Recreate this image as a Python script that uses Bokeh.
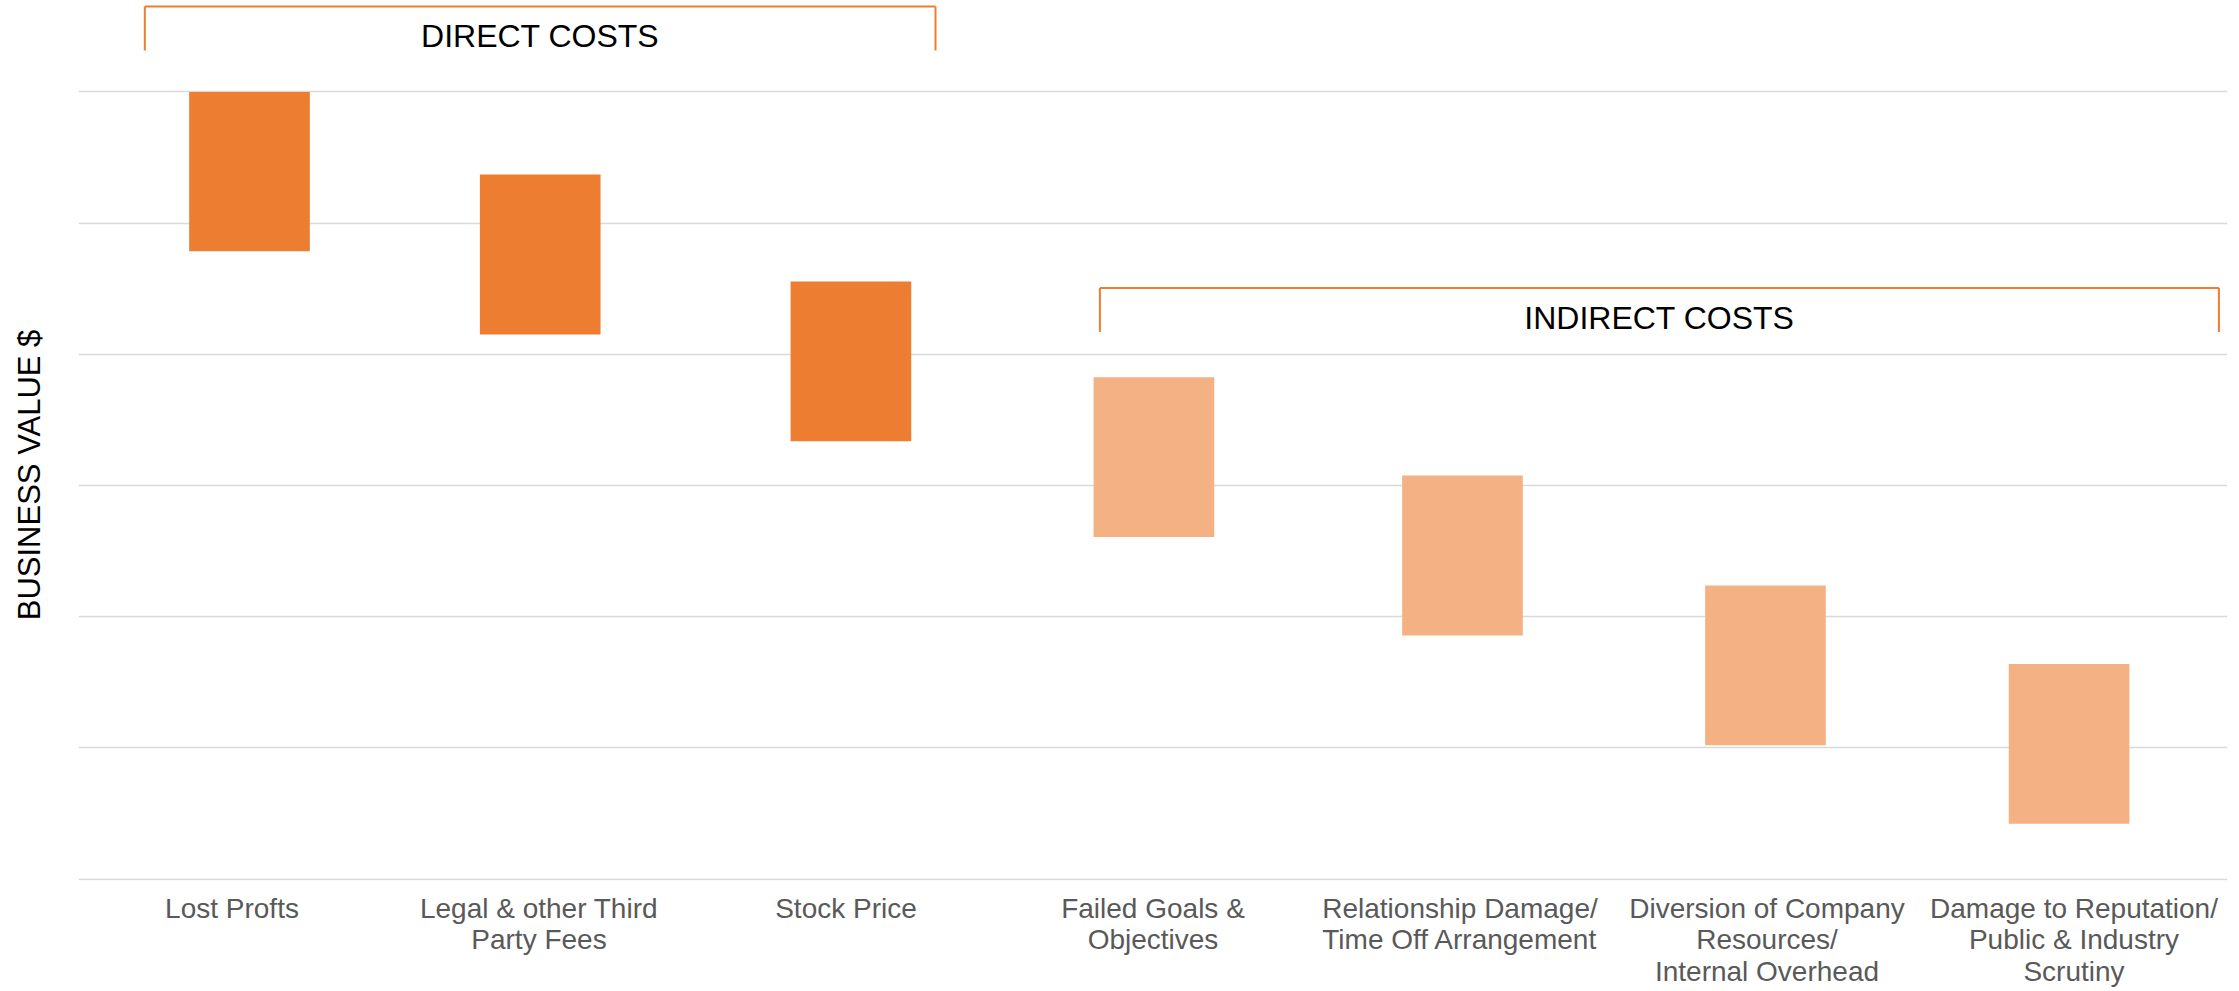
from bokeh.plotting import figure
from bokeh.models import Range1d, FixedTicker, Arrow, Label, ColumnDataSource
from bokeh.embed import file_html
from bokeh.resources import INLINE

# ---------------- data ----------------
categories = [
    "Lost Profts",
    "Legal & other Third\nParty Fees",
    "Stock Price",
    "Failed Goals &\nObjectives",
    "Relationship Damage/\nTime Off Arrangement",
    "Diversion of Company\nResources/\nInternal Overhead",
    "Damage to Reputation/\nPublic & Industry\nScrutiny",
]
cost_type = ["direct", "direct", "direct", "indirect", "indirect", "indirect", "indirect"]
bar_top = [6.0, 5.37, 4.555, 3.826, 3.076, 2.239, 1.641]
bar_bottom = [4.786, 4.152, 3.337, 2.608, 1.858, 1.021, 0.423]
group_names = ["DIRECT COSTS", "INDIRECT COSTS"]
y_ticks = [0, 1, 2, 3, 4, 5, 6]

# ---------------- layout / style ----------------
BAR_OFFSET = [0.057, 0.004, 0.016, 0.003, 0.008, -0.005, -0.016]
BAR_WIDTH = 0.393
COLORS = {"direct": "#ED7D31", "indirect": "#F4B183"}
GROUP_X = [(-0.284, 2.2915), (2.827, 6.472)]
GROUP_Y = [6.651, 4.506]
GROUP_DROP = 0.335
GROUP_LABEL_DY = -0.227
FONT = "Liberation Sans"
NBSP = "\u00a0"

p = figure(
    width=2239, height=991,
    output_backend="svg", toolbar_location=None,
    x_range=Range1d(-0.5, 6.5), y_range=Range1d(-0.01, 6.697),
    min_border_left=78, min_border_right=12,
    min_border_top=0, min_border_bottom=111,
)
p.outline_line_color = None
p.background_fill_color = "white"
p.border_fill_color = "white"

src = ColumnDataSource(dict(
    x=[i + o for i, o in enumerate(BAR_OFFSET)],
    top=bar_top,
    bottom=bar_bottom,
    color=[COLORS[t] for t in cost_type],
))
p.vbar(x="x", width=BAR_WIDTH, top="top", bottom="bottom",
       fill_color="color", line_color=None, source=src)

# brackets and group labels
for name, (x0, x1), yt in zip(group_names, GROUP_X, GROUP_Y):
    yb = yt - GROUP_DROP
    seg = ColumnDataSource(dict(
        xs=[x0, x0, x1], ys=[yb, yt, yt],
        xe=[x0, x1, x1], ye=[yt, yt, yb],
    ))
    p.add_layout(Arrow(end=None, x_start="xs", y_start="ys", x_end="xe", y_end="ye",
                       source=seg, line_color="#ED7D31", line_width=2))
    p.add_layout(Label(x=(x0 + x1) / 2, y=yt + GROUP_LABEL_DY, text=name,
                       text_align="center", text_baseline="middle",
                       text_font=FONT, text_font_size="32px", text_color="black"))

# x axis
p.xaxis.ticker = FixedTicker(ticks=list(range(len(categories))))
p.xaxis.major_label_overrides = {i: c for i, c in enumerate(categories)}
p.xaxis.major_label_text_font = FONT
p.xaxis.major_label_text_font_size = "28px"
p.xaxis.major_label_text_line_height = 1.03
p.xaxis.major_label_text_color = "#595959"
p.xaxis.major_label_standoff = 6
p.xaxis.axis_line_color = None
p.xaxis.major_tick_line_color = None
p.xaxis.minor_tick_line_color = None
p.xgrid.visible = False

# y axis (label only) and horizontal grid
p.yaxis.ticker = FixedTicker(ticks=[])
p.yaxis.major_label_standoff = 0
p.yaxis.major_tick_line_color = None
p.yaxis.minor_tick_line_color = None
p.yaxis.axis_line_color = None
p.yaxis.axis_label = "BUSINESS VALUE $" + NBSP * 8
p.yaxis.axis_label_text_font = FONT
p.yaxis.axis_label_text_font_size = "31px"
p.yaxis.axis_label_text_font_style = "normal"
p.yaxis.axis_label_text_color = "black"
p.yaxis.axis_label_standoff = 32
p.ygrid.ticker = FixedTicker(ticks=y_ticks)
p.ygrid.grid_line_color = "#D9D9D9"
p.ygrid.grid_line_width = 1.5

open("out.html", "w").write(file_html(p, INLINE))
